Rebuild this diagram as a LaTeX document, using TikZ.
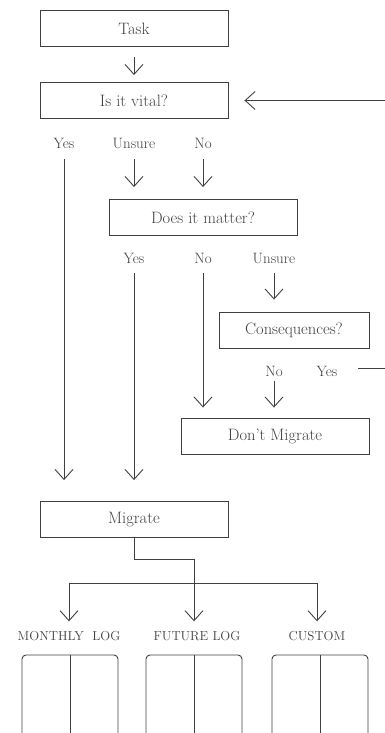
\documentclass[tikz,border=0pt]{standalone}
\usepackage{tikz}
\usetikzlibrary{arrows.meta,calc,positioning}
\definecolor{ink}{HTML}{404040}
\tikzset{%
	block/.style   = {draw, rectangle, minimum width=188pt, minimum height=36pt, font=\fontsize{16.5}{18}\selectfont},
	choice/.style  = {inner sep=0pt, text height=11pt, text depth=0pt, font=\fontsize{15}{17}\selectfont}, % answer
	logname/.style = {inner sep=0pt, text height=8.5pt, text depth=0pt, font=\fontsize{13}{15}\selectfont}, % log type
	arrow/.style   = {-{Straight Barb[length=10pt,width=18pt]}},
}

\begin{document}
\begin{tikzpicture}[x=1pt, y=-1pt, draw=ink, text=ink, line width=0.9pt]
	\useasboundingbox (0,0) rectangle (385,733);
	% questions
	\node[block] (task) at (134,28.5) {Task};
	\node[block] (vital) at (134,100.5) {Is it vital?};
	\node[block] (matter) at (203,217.5) {Does it matter?};
	\node[block, minimum width=150pt] (conseq) at (294,330) {Consequences?};
	\node[block] (dont) at (275,436) {Don't Migrate};
	\node[block] (migrate) at (134,519.5) {Migrate};
	% answers
	\node[choice] (vyes) at (64,142.5) {Yes};
	\node[choice] (vunsure) at (134,142.5) {Unsure};
	\node[choice] (vno) at (203,142.5) {No};
	\node[choice] (myes) at (134,257.5) {Yes};
	\node[choice] (mno) at (203,257.5) {No};
	\node[choice] (munsure) at (274,257.5) {Unsure};
	\node[choice] (cno) at (274,371) {No};
	\node[choice] (cyes) at (327,371) {Yes};
	% logs
	\node[logname] (monthly) at (69,636) {MONTHLY\ \ LOG};
	\node[logname] (future) at (197,636) {FUTURE LOG};
	\node[logname] (custom) at (317,636) {CUSTOM};
	\coordinate (loopin) at (385,100.5);
	\coordinate (loopout) at (385,368);
	\coordinate (turn) at (194,559);
	\coordinate (bar) at (69,583);
	% connectors
	\draw[arrow, shorten <=10pt, shorten >=7pt] (task) -- (vital);
	\draw[arrow, shorten >=16pt] (loopin) -- (vital);
	\draw[arrow, shorten <=11pt, shorten >=21pt] (vyes) -- (vyes |- migrate.north);
	\draw[arrow, shorten <=11pt, shorten >=12pt] (vunsure) -- (vunsure |- matter.north);
	\draw[arrow, shorten <=11pt, shorten >=12pt] (vno) -- (vno |- matter.north);
	\draw[arrow, shorten <=10pt, shorten >=21pt] (myes) -- (myes |- migrate.north);
	\draw[arrow, shorten <=10pt, shorten >=10pt] (mno) -- (mno |- dont.north);
	\draw[arrow, shorten <=10pt, shorten >=12pt] (munsure) -- (munsure |- conseq.north);
	\draw[arrow, shorten <=4pt, shorten >=10pt] (cno) -- (cno |- dont.north);
	\draw[shorten <=20pt] (cyes.east |- loopout) -- (loopout);
	\draw[arrow, shorten >=10pt] (migrate.south) |- (turn) -- (turn |- future.north);
	\draw[arrow, shorten >=10pt] (bar) -- (monthly);
	\draw[arrow, shorten >=10pt] (bar) -| (custom);
	% log pages
	\foreach \x in {22,146,272} {
		\draw[rounded corners=4pt] (\x,733) -- (\x,655) -- (\x+96,655) -- (\x+96,733);
		\draw (\x+48,655) -- (\x+48,733);
	}
\end{tikzpicture}
\end{document}
